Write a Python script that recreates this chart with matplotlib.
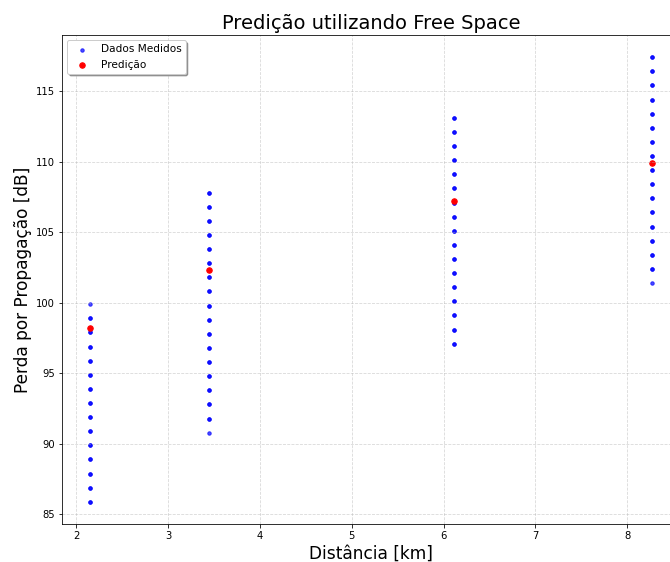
import numpy as np
import matplotlib.pyplot as plt

# distâncias das medições [km]
dist_km = [2.15, 3.45, 6.11, 8.27]

# perdas medidas em cada ponto [dB]
perda_d1 = [99.9, 98.9, 97.9, 96.9, 95.9, 94.9, 93.9, 92.9, 91.9, 90.9, 89.9, 88.9, 87.9, 86.9, 85.9]
perda_d2 = [107.8, 106.8, 105.8, 104.8, 103.8, 102.8, 101.8, 100.8, 99.8, 98.8, 97.8, 96.8, 95.8,
            94.8, 93.8, 92.8, 91.8, 90.8]
perda_d3 = [113.1, 112.1, 111.1, 110.1, 109.1, 108.1, 107.1, 106.1, 105.1, 104.1, 103.1, 102.1,
            101.1, 100.1, 99.1, 98.1, 97.1]
perda_d4 = [117.4, 116.4, 115.4, 114.4, 113.4, 112.4, 111.4, 110.4, 109.4, 108.4, 107.4, 106.4,
            105.4, 104.4, 103.4, 102.4, 101.4]

# número de medições repetidas em cada valor
rep_d1 = [1] + [2] * 14
rep_d2 = [2] * 17 + [1]
rep_d3 = [2] * 17
rep_d4 = [2] * 16 + [1]

# perda prevista pelo modelo de espaço livre [dB]
perda_pred = [98.2, 102.3, 107.2, 109.9]

x_med, y_med = [], []
for d, perdas, reps in zip(dist_km, [perda_d1, perda_d2, perda_d3, perda_d4],
                           [rep_d1, rep_d2, rep_d3, rep_d4]):
    for p, r in zip(perdas, reps):
        x_med += [d] * r
        y_med += [p] * r

fig = plt.figure(figsize=(670 / 72, 562 / 72), dpi=72)
ax = fig.add_axes([62 / 670, 38 / 562, 618 / 670, 489 / 562])

ax.scatter(x_med, y_med, s=12, color='blue', alpha=0.7, label='Dados Medidos')
ax.scatter(dist_km, perda_pred, s=30, color='red', label='Predição')

ax.set_title('Predição utilizando Free Space', fontsize=19.5)
ax.set_xlabel('Distância [km]', fontsize=17)
ax.set_ylabel('Perda por Propagação [dB]', fontsize=17)
ax.grid(True, linestyle='--', alpha=0.5)
ax.legend(loc='upper left', shadow=True, fancybox=True, fontsize=10.5)

fig.savefig('out.png', dpi=72)
